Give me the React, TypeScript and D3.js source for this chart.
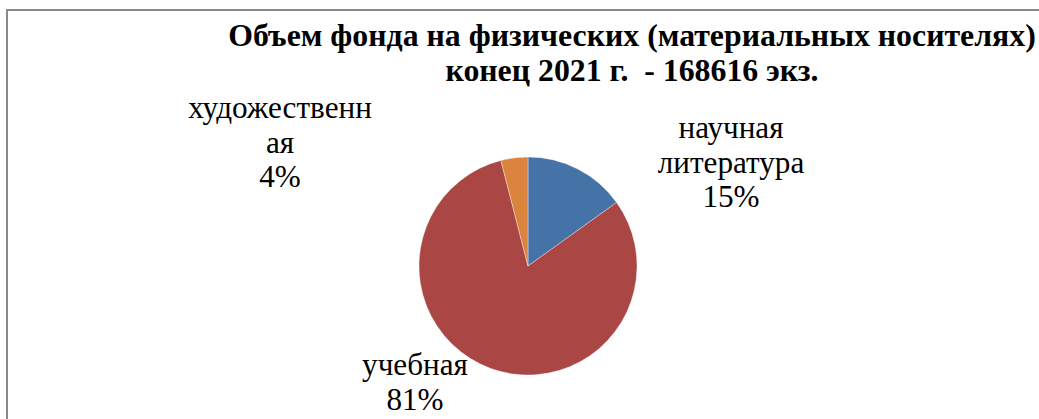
import React from 'react';
import * as d3 from 'd3';

// chart data
const categories = ['научная литература', 'учебная', 'художественная'];
const labelLines = [['научная', 'литература'], ['учебная'], ['художественн', 'ая']];
const shares = [15.1, 80.9, 4.0];
const colors = ['#4572A7', '#AA4643', '#DB843D'];
const titleLines = ['Объем фонда на физических (материальных носителях)', 'конец 2021 г.  - 168616 экз.'];

const width = 1039;
const height = 419;
const font = 'Liberation Serif';

// where each data label block sits, relative to the pie centre (Excel placed them by hand)
const labelOffsets = [
  { dx: 203, dy: -128 },
  { dx: -113, dy: 109 },
  { dx: -248, dy: -148 },
];

const App = () => {
  const cx = 528;
  const cy = 266;
  const radius = 109;

  const data = categories.map((name, i) => ({ name, value: shares[i], idx: i }));
  const total = d3.sum(shares);
  const pct = d3.format('.0%');

  const pie = d3.pie<any>().sort(null).value(d => d.value);
  const arc = d3.arc<any>().innerRadius(0).outerRadius(radius);
  const arcs = pie(data);

  const color = d3.scaleOrdinal<string, string>().domain(categories).range(colors);

  return (
    <svg
      width={width}
      height={height}
      fontFamily={font}
      style={{ position: 'absolute', left: 0, top: 0, background: '#fff' }}
    >
      <rect x={7} y={10} width={1200} height={600} fill="#fff" stroke="#898989" strokeWidth={2} />

      {/* title */}
      {titleLines.map((t, i) => (
        <text
          key={i}
          x={632}
          y={46 + i * 35}
          textAnchor="middle"
          fontWeight="bold"
          fontSize={31.8}
          fill="#000"
          style={{ whiteSpace: 'pre' }}
        >
          {t}
        </text>
      ))}

      {/* slices */}
      <g transform={`translate(${cx},${cy})`}>
        {arcs.map(a => (
          <path
            key={a.data.name}
            d={arc(a) as string}
            fill={color(a.data.name)}
            stroke="#fff"
            strokeWidth={0.6}
            strokeOpacity={0.6}
          />
        ))}
      </g>

      {/* data labels */}
      {arcs.map(a => {
        const off = labelOffsets[a.data.idx];
        const lines = [...labelLines[a.data.idx], pct(a.data.value / total)];
        return lines.map((t, i) => (
          <text
            key={a.data.name + i}
            x={cx + off.dx}
            y={cy + off.dy + i * 34.7}
            textAnchor="middle"
            fontSize={31.2}
            fill="#000"
          >
            {t}
          </text>
        ));
      })}
    </svg>
  );
};

export default App;
